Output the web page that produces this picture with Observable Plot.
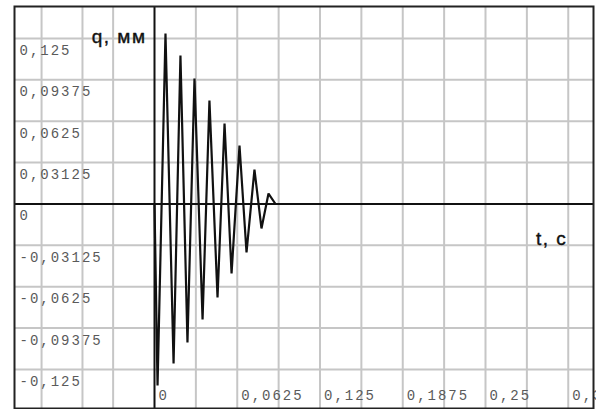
<!DOCTYPE html>
<html>
<head>
<meta charset="utf-8">
<script src="https://cdn.jsdelivr.net/npm/d3@7"></script>
<script src="https://cdn.jsdelivr.net/npm/@observablehq/plot@0.6"></script>
<style>
  html, body { margin: 0; padding: 0; background: #fff; overflow: hidden; }
  #chart svg { overflow: hidden; display: block; }
  g[font-family="Liberation Mono"] { letter-spacing: 2px; }
  g[font-family="Liberation Sans"] { letter-spacing: 1.5px; }
</style>
</head>
<body>
<div id="chart"></div>
<script>
// Signal: time (s) and displacement q (mm), read at peaks/troughs
const tValues = [0, 0.0023, 0.0083, 0.0144, 0.0196, 0.0249, 0.0302, 0.0363, 0.0415, 0.0476, 0.0529, 0.0582, 0.0642, 0.0695, 0.0755, 0.0808, 0.0861, 0.0914, 0.2];
const qValues = [0, -0.137, 0.1288, -0.1205, 0.1122, -0.1046, 0.0948, -0.0872, 0.0781, -0.0706, 0.0608, -0.0525, 0.0442, -0.0366, 0.026, -0.0185, 0.0079, 0, 0];

// Ticks and labels
const yTicks = [0.125, 0.09375, 0.0625, 0.03125, 0, -0.03125, -0.0625, -0.09375, -0.125];
const yLabels = ["0,125", "0,09375", "0,0625", "0,03125", "0", "-0,03125", "-0,0625", "-0,09375", "-0,125"];
const xTicks = [0, 0.0625, 0.125, 0.1875, 0.25, 0.3125];
const xLabels = ["0", "0,0625", "0,125", "0,1875", "0,25", "0,3125"];
const xGrid = [-0.0853, -0.0544, -0.03125, 0.03125, 0.0625, 0.09375, 0.125, 0.15625, 0.1875, 0.21875, 0.25, 0.28125, 0.3125];
const yGrid = [0.125, 0.09375, 0.0625, 0.03125, -0.03125, -0.0625, -0.09375, -0.125];
const yTitle = "q, мм";
const xTitle = "t, c";

const series = tValues.map((t, i) => ({t, q: qValues[i]}));
const mono = "Liberation Mono";
const sans = "Liberation Sans";

const chart = Plot.plot({
  width: 596,
  height: 409,
  marginLeft: 14,
  marginRight: 3,
  marginTop: 6,
  marginBottom: 1,
  x: {domain: [-0.10574, 0.33157], axis: null},
  y: {domain: [-0.15446, 0.14917], axis: null},
  marks: [
    Plot.ruleX(xGrid, {x: d => d, stroke: "#c6c6c6", strokeWidth: 2}),
    Plot.ruleY(yGrid, {y: d => d, stroke: "#c6c6c6", strokeWidth: 2}),
    Plot.text(yTicks, {y: d => d, text: (d, i) => yLabels[i], frameAnchor: "left", textAnchor: "start", dx: 5, dy: 12, fontFamily: mono, fontSize: 14, fill: "#5a5a5a"}),
    Plot.text(xTicks, {x: d => d, text: (d, i) => xLabels[i], frameAnchor: "bottom", textAnchor: "start", dx: 4, dy: -9, fontFamily: mono, fontSize: 14, fill: "#5a5a5a"}),
    Plot.ruleY([0], {stroke: "#111", strokeWidth: 2}),
    Plot.ruleX([0], {stroke: "#111", strokeWidth: 2}),
    Plot.line(series, {x: "t", y: "q", stroke: "#111", strokeWidth: 2.2, strokeLinejoin: "miter"}),
    Plot.text([yTitle], {x: 0, frameAnchor: "top", text: d => d, textAnchor: "end", dx: -8, dy: 23, fontFamily: sans, fontSize: 19, fill: "#111", stroke: "#111", strokeWidth: 0.4}),
    Plot.text([xTitle], {x: 0.3125, y: 0, text: d => d, textAnchor: "end", dx: -1, dy: 35, fontFamily: sans, fontSize: 19, fill: "#111", stroke: "#111", strokeWidth: 0.4}),
    Plot.frame({stroke: "#222", strokeWidth: 2})
  ]
});
document.getElementById("chart").appendChild(chart);
</script>
</body>
</html>
